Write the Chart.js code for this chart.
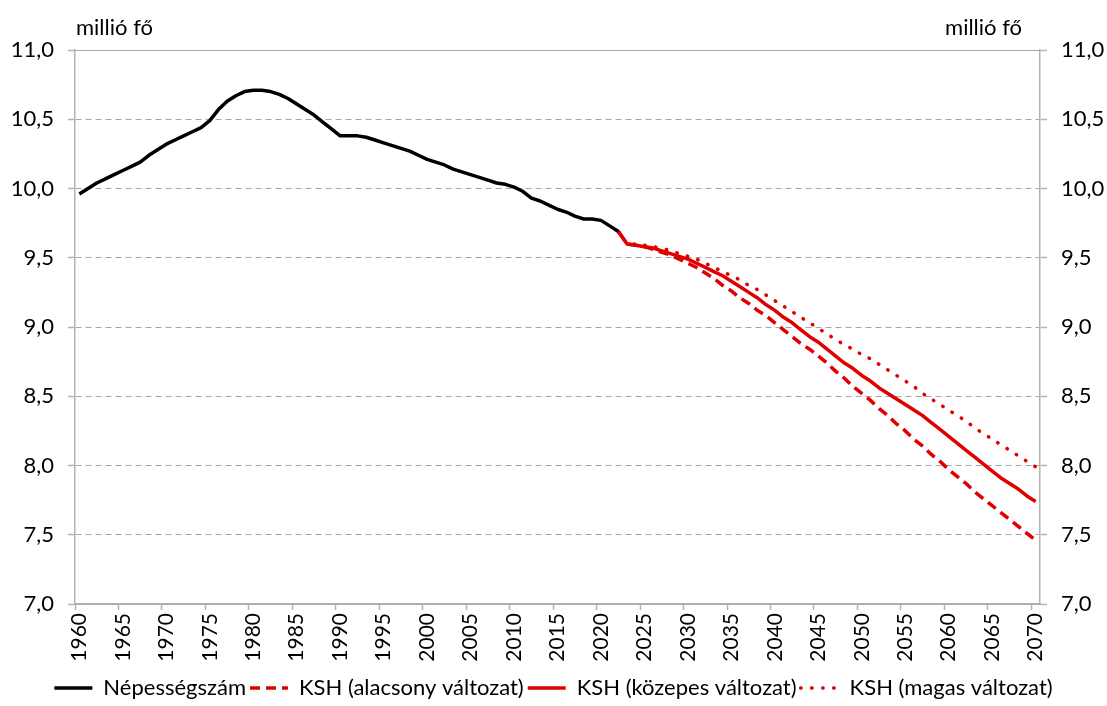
<!DOCTYPE html>
<html>
<head>
<meta charset="utf-8">
<script src="https://cdn.jsdelivr.net/npm/chart.js@4.4.0/dist/chart.umd.min.js"></script>
<style>
html, body { margin: 0; padding: 0; background: #fff; }
#wrap { width: 1107px; height: 706px; position: relative; }
</style>
</head>
<body>
<div id="wrap"><canvas id="popChart" width="1107" height="706"></canvas></div>
<script>
// years on the category axis, 1960-2070
var years = [];
for (var yr = 1960; yr <= 2070; yr++) years.push(String(yr));

// observed population, million people, 1960-2022
var nepessegszam = [
    9.96, 10.00, 10.04, 10.07, 10.10, 10.13, 10.16, 10.19, 10.24, 10.28,
    10.32, 10.35, 10.38, 10.41, 10.44, 10.49, 10.57, 10.63, 10.67, 10.70,
    10.71, 10.71, 10.70, 10.68, 10.65, 10.61, 10.57, 10.53, 10.48, 10.43,
    10.38, 10.38, 10.38, 10.37, 10.35, 10.33, 10.31, 10.29, 10.27, 10.24,
    10.21, 10.19, 10.17, 10.14, 10.12, 10.10, 10.08, 10.06, 10.04, 10.03,
    10.01, 9.98, 9.93, 9.91, 9.88, 9.85, 9.83, 9.80, 9.78, 9.78,
    9.77, 9.73, 9.69
];

// KSH projections, 2022-2070
var projStart = '2022';
var ksh_alacsony = [
    9.69, 9.60, 9.59, 9.58, 9.56, 9.54, 9.52, 9.49,
    9.46, 9.43, 9.39, 9.35, 9.30, 9.26, 9.21, 9.17, 9.12, 9.08,
    9.03, 8.98, 8.93, 8.88, 8.84, 8.79, 8.74, 8.68, 8.63, 8.57,
    8.52, 8.47, 8.41, 8.36, 8.30, 8.25, 8.19, 8.14, 8.08, 8.03,
    7.97, 7.92, 7.87, 7.81, 7.76, 7.71, 7.66, 7.61, 7.56, 7.51,
    7.46
];
var ksh_kozepes = [
    9.69, 9.60, 9.59, 9.58, 9.57, 9.55, 9.53, 9.51,
    9.49, 9.46, 9.43, 9.40, 9.37, 9.33, 9.29, 9.25, 9.21, 9.16,
    9.12, 9.07, 9.03, 8.98, 8.93, 8.89, 8.84, 8.79, 8.74, 8.70,
    8.65, 8.61, 8.56, 8.52, 8.48, 8.44, 8.40, 8.36, 8.31, 8.26,
    8.21, 8.16, 8.11, 8.06, 8.01, 7.96, 7.91, 7.87, 7.83, 7.78,
    7.74
];
var ksh_magas = [
    9.69, 9.60, 9.60, 9.59, 9.58, 9.57, 9.55, 9.53,
    9.51, 9.49, 9.46, 9.43, 9.40, 9.37, 9.34, 9.30, 9.27, 9.23,
    9.19, 9.15, 9.11, 9.07, 9.03, 8.99, 8.95, 8.91, 8.87, 8.84,
    8.80, 8.77, 8.73, 8.69, 8.65, 8.61, 8.57, 8.52, 8.48, 8.44,
    8.40, 8.36, 8.32, 8.27, 8.23, 8.19, 8.15, 8.11, 8.07, 8.03,
    7.99
];

var seriesNames = ['Népességszám', 'KSH (alacsony változat)', 'KSH (közepes változat)', 'KSH (magas változat)'];
var unitText = 'millió fő';

// pad projections with nulls so they start at 2022
function fromStart(vals) {
    var lead = years.indexOf(projStart);
    var out = [];
    for (var i = 0; i < lead; i++) out.push(null);
    return out.concat(vals);
}

var RED = '#e00000';
var GRID = '#a6a6a6';
var AXIS = '#b3b3b3';

Chart.defaults.font.family = 'Lato';
Chart.defaults.color = '#000';

var unitLabels = {
    id: 'unitLabels',
    afterDraw: function (chart) {
        var ctx = chart.ctx, area = chart.chartArea;
        ctx.save();
        ctx.font = '22px Lato';
        ctx.fillStyle = '#000';
        ctx.textBaseline = 'alphabetic';
        ctx.textAlign = 'left';
        ctx.fillText(unitText, area.left + 1, 35);
        ctx.textAlign = 'right';
        ctx.fillText(unitText, area.right - 18, 35);
        ctx.restore();
    }
};

function yTick(v) {
    return v.toFixed(1).replace('.', ',');
}

// legend samples: take dash / width / cap from the dataset line
function legendItems(chart) {
    var items = Chart.defaults.plugins.legend.labels.generateLabels(chart);
    items.forEach(function (it) {
        var ds = chart.data.datasets[it.datasetIndex];
        it.lineDash = ds.borderDash || [];
        it.lineWidth = ds.borderWidth;
        it.strokeStyle = ds.borderColor;
        it.lineCap = ds.borderCapStyle || 'butt';
        it.pointStyle = 'line';
    });
    return items;
}

var ctx = document.getElementById('popChart').getContext('2d');
var chart = new Chart(ctx, {
    type: 'line',
    data: {
        labels: years,
        datasets: [{
            label: seriesNames[0],
            data: nepessegszam,
            borderColor: '#000',
            backgroundColor: '#000',
            borderWidth: 3.5,
            borderJoinStyle: 'round'
        }, {
            label: seriesNames[1],
            data: fromStart(ksh_alacsony),
            borderColor: RED,
            backgroundColor: RED,
            borderWidth: 3.5,
            borderDash: [10, 6]
        }, {
            label: seriesNames[2],
            data: fromStart(ksh_kozepes),
            borderColor: RED,
            backgroundColor: RED,
            borderWidth: 3.5,
            borderJoinStyle: 'round'
        }, {
            label: seriesNames[3],
            data: fromStart(ksh_magas),
            borderColor: RED,
            backgroundColor: RED,
            borderWidth: 3.5,
            borderCapStyle: 'round',
            borderDash: [0.5, 10.5]
        }]
    },
    options: {
        responsive: false,
        maintainAspectRatio: false,
        animation: false,
        layout: { padding: { top: 50, left: 0, right: 0, bottom: -3 } },
        elements: {
            point: { radius: 0, hoverRadius: 0 },
            line: { tension: 0 }
        },
        plugins: {
            tooltip: { enabled: false },
            legend: {
                position: 'bottom',
                labels: {
                    usePointStyle: true,
                    pointStyle: 'line',
                    pointStyleWidth: 38,
                    padding: 4,
                    font: { size: 22 },
                    color: '#000',
                    generateLabels: legendItems
                }
            }
        },
        scales: {
            x: {
                type: 'category',
                offset: true,
                grid: {
                    offset: true,
                    drawOnChartArea: false,
                    drawTicks: true,
                    tickLength: 6,
                    tickWidth: 1.5,
                    tickColor: function (c) { return c.index % 5 === 0 ? AXIS : 'rgba(0,0,0,0)'; }
                },
                border: { display: true, color: AXIS, width: 1.5 },
                ticks: {
                    autoSkip: false,
                    minRotation: 90,
                    maxRotation: 90,
                    padding: 3,
                    font: { size: 21 },
                    callback: function (v, i) { return Number(years[i]) % 5 === 0 ? years[i] : ''; }
                },
                afterFit: function (s) { s.height = 69; }
            },
            y: {
                position: 'left',
                min: 7,
                max: 11,
                ticks: { stepSize: 0.5, padding: 14, font: { size: 22 }, callback: yTick },
                grid: {
                    color: GRID,
                    lineWidth: 1,
                    tickLength: 7,
                    tickColor: AXIS,
                    tickWidth: 1.5
                },
                border: {
                    display: true,
                    color: AXIS,
                    width: 1.5,
                    dash: function (c) { return (c.tick && (c.tick.value === 11 || c.tick.value === 7)) ? [] : [6, 4]; }
                },
                afterFit: function (s) { s.width = 75; }
            },
            y2: {
                position: 'right',
                min: 7,
                max: 11,
                ticks: { stepSize: 0.5, padding: 14, font: { size: 22 }, callback: yTick },
                grid: {
                    drawOnChartArea: false,
                    tickLength: 7,
                    tickColor: AXIS,
                    tickWidth: 1.5
                },
                border: { display: true, color: AXIS, width: 1.5 },
                afterFit: function (s) { s.width = 67; }
            }
        }
    },
    plugins: [unitLabels]
});
</script>
</body>
</html>
